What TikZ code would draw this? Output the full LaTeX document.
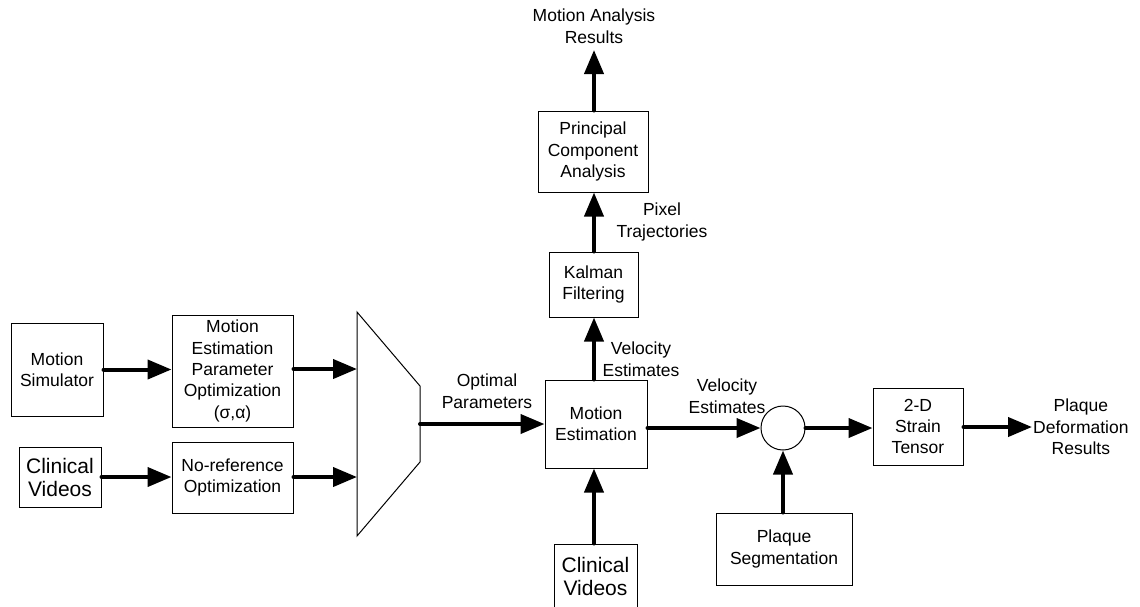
\documentclass[tikz,border=0pt]{standalone}
\usepackage{fontspec}
\setmainfont{Liberation Sans}
\usetikzlibrary{arrows.meta}
\tikzset{
  block/.style={draw, line width=1pt, align=center, inner sep=2pt,
    font=\fontsize{17.5}{21.3}\selectfont},
  bigblock/.style={block, font=\fontsize{21}{23}\selectfont},
  lbl/.style={align=center, inner sep=1pt, font=\fontsize{17.5}{21.5}\selectfont},
  flow/.style={line width=4pt, line cap=round,
    -{Triangle[length=24pt, width=19pt]}}
}
\begin{document}
\begin{tikzpicture}[x=1pt, y=-1pt]
        \clip (0,0) rectangle (1140,606);
        \fill[white] (0,0) rectangle (1140,606);

        % inputs
        \node [block, minimum width=92pt, minimum height=93pt] (sim) at (57,369.5) {Motion\\Simulator};
        \node [block, minimum width=121pt, minimum height=112pt] (mepo) at (232.5,371) {Motion\\Estimation\\Parameter\\Optimization\\(σ,α)};
        \node [bigblock, minimum width=82pt, minimum height=60pt] (clinA) at (60,477) {Clinical\\Videos};
        \node [block, minimum width=121pt, minimum height=71pt] (noref) at (232.5,477.5) {No-reference\\Optimization};

        % selector
        \draw[line width=1pt] (357,312) -- (420,386) -- (420,462) -- (357,536) -- cycle;
        \coordinate (muxA) at (357,369);
        \coordinate (muxB) at (357,477);
        \coordinate (muxOut) at (420,424);

        % estimation chain
        \node [block, minimum width=102pt, minimum height=88pt] (est) at (596,424) {Motion\\Estimation};
        \node [bigblock, minimum width=83pt, minimum height=64pt] (clinB) at (595.5,576) {Clinical\\Videos};
        \node [block, minimum width=89pt, minimum height=65pt] (kal) at (593.5,284.5) {Kalman\\Filtering};
        \node [block, minimum width=110pt, minimum height=81pt] (pca) at (593,151.5) {Principal\\Component\\Analysis};
        \node [lbl] (anres) at (594,26) {Motion Analysis\\Results};

        % strain branch
        \node [draw, line width=1pt, circle, minimum size=44pt] (sum) at (783,428) {};
        \node [block, minimum width=136pt, minimum height=72pt] (seg) at (784,549) {Plaque\\Segmentation};
        \node [block, minimum width=90pt, minimum height=77pt] (strain) at (918,426.5) {2-D\\Strain\\Tensor};
        \node [lbl, anchor=west] (defres) at (1032,427) {Plaque\\Deformation\\Results};

        % labels
        \node [lbl] (optpar) at (487,391) {Optimal\\Parameters};
        \node [lbl] (velA) at (641,359) {Velocity\\Estimates};
        \node [lbl] (traj) at (662,222) {Pixel\\Trajectories};
        \node [lbl] (velB) at (727,396) {Velocity\\Estimates};

        \draw[flow] (sim.east) -- (mepo.west |- sim.east);
        \draw[flow] (clinA.east) -- (noref.west |- clinA.east);
        \draw[flow] (mepo.east |- muxA) -- (muxA);
        \draw[flow] (noref.east |- muxB) -- (muxB);
        \draw[flow] (muxOut) -- (est.west |- muxOut);

        \draw[flow] (est.north -| 594,0) -- (kal.south -| 594,0);
        \draw[flow] (kal.north -| 594,0) -- (pca.south -| 594,0);
        \draw[flow] (pca.north -| 594,0) -- (594,50);
        \draw[flow] (clinB.north -| 594,0) -- (est.south -| 594,0);

        \draw[flow] (est.east |- sum.west) -- (sum.west);
        \draw[flow] (seg.north -| sum.south) -- (sum.south);
        \draw[flow] (sum.east) -- (strain.west |- sum.east);
        \draw[flow] (strain.east |- defres.west) -- (defres.west);
\end{tikzpicture}
\end{document}
